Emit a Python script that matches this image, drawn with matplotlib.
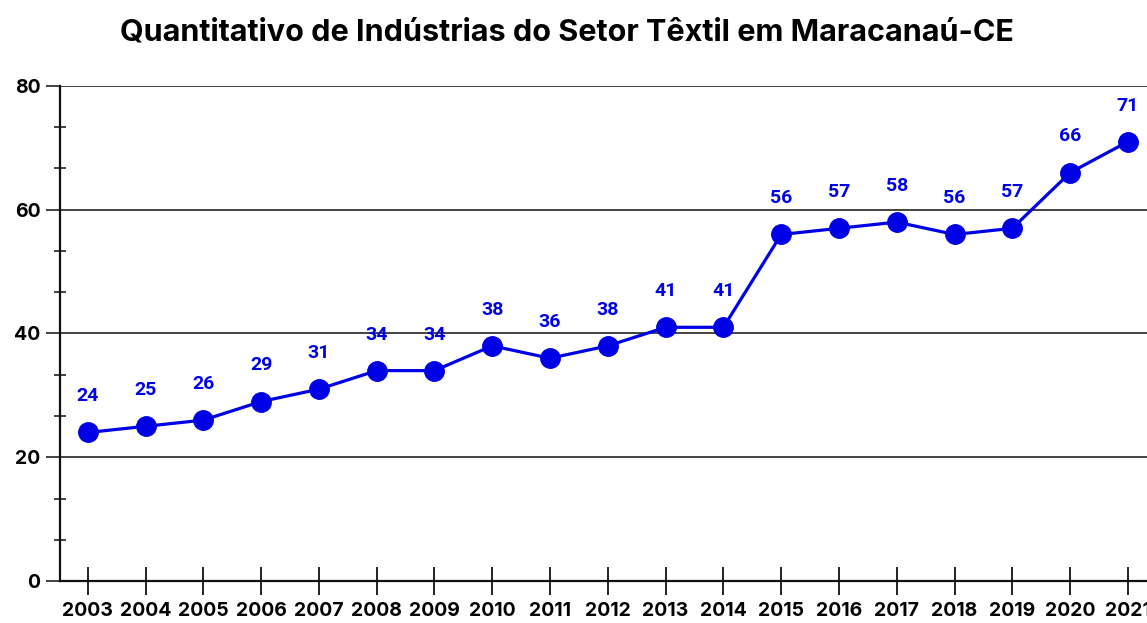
import matplotlib
matplotlib.use("Agg")
import matplotlib.pyplot as plt
from matplotlib.ticker import MultipleLocator

anos = [2003, 2004, 2005, 2006, 2007, 2008, 2009, 2010, 2011, 2012,
        2013, 2014, 2015, 2016, 2017, 2018, 2019, 2020, 2021]
industrias = [24, 25, 26, 29, 31, 34, 34, 38, 36, 38,
              41, 41, 56, 57, 58, 56, 57, 66, 71]
yticks = [0, 20, 40, 60, 80]

AZUL = "#0000e6"
FONTE = ["Inter", "DejaVu Sans"]

fig = plt.figure(figsize=(11.47, 6.23), dpi=100)
ax = fig.add_axes([0.0523, 0.0674, 0.9477, 0.7946])

ax.plot(anos, industrias, color=AZUL, lw=2.3, marker="o", ms=14, zorder=3)
for x, y in zip(anos, industrias):
    ax.annotate(str(y), (x, y), xytext=(0, 26), textcoords="offset points",
                ha="center", va="center", color=AZUL, fontsize=14,
                fontweight="bold", family="Roboto")

ax.set_xlim(2002.52, 2021.33)
ax.set_ylim(0, 80)
ax.set_xticks(anos)
ax.set_xticklabels([str(a) for a in anos])
ax.set_yticks(yticks)
ax.yaxis.set_minor_locator(MultipleLocator(20 / 3))
ax.grid(axis="y", color="#222222", lw=1.2)

for s in ["top", "right"]:
    ax.spines[s].set_visible(False)
for s in ["left", "bottom"]:
    ax.spines[s].set_color("#111111")
    ax.spines[s].set_linewidth(1.6)

ax.tick_params(axis="x", direction="inout", length=20, width=1.4, color="#222222",
               pad=5, labelsize=14)
ax.tick_params(axis="y", which="major", direction="out", length=10, width=1.2,
               color="#222222", pad=4, labelsize=14)
ax.tick_params(axis="y", which="minor", direction="inout", length=8, width=1.2,
               color="#222222")
for lab in ax.get_xticklabels() + ax.get_yticklabels():
    lab.set_fontweight("bold")
    lab.set_family(FONTE)

fig.text(0.494, 0.948, "Quantitativo de Indústrias do Setor Têxtil em Maracanaú-CE",
         ha="center", va="center", fontsize=22, fontweight="bold",
         family=FONTE)

fig.savefig("out.png", dpi=100)
